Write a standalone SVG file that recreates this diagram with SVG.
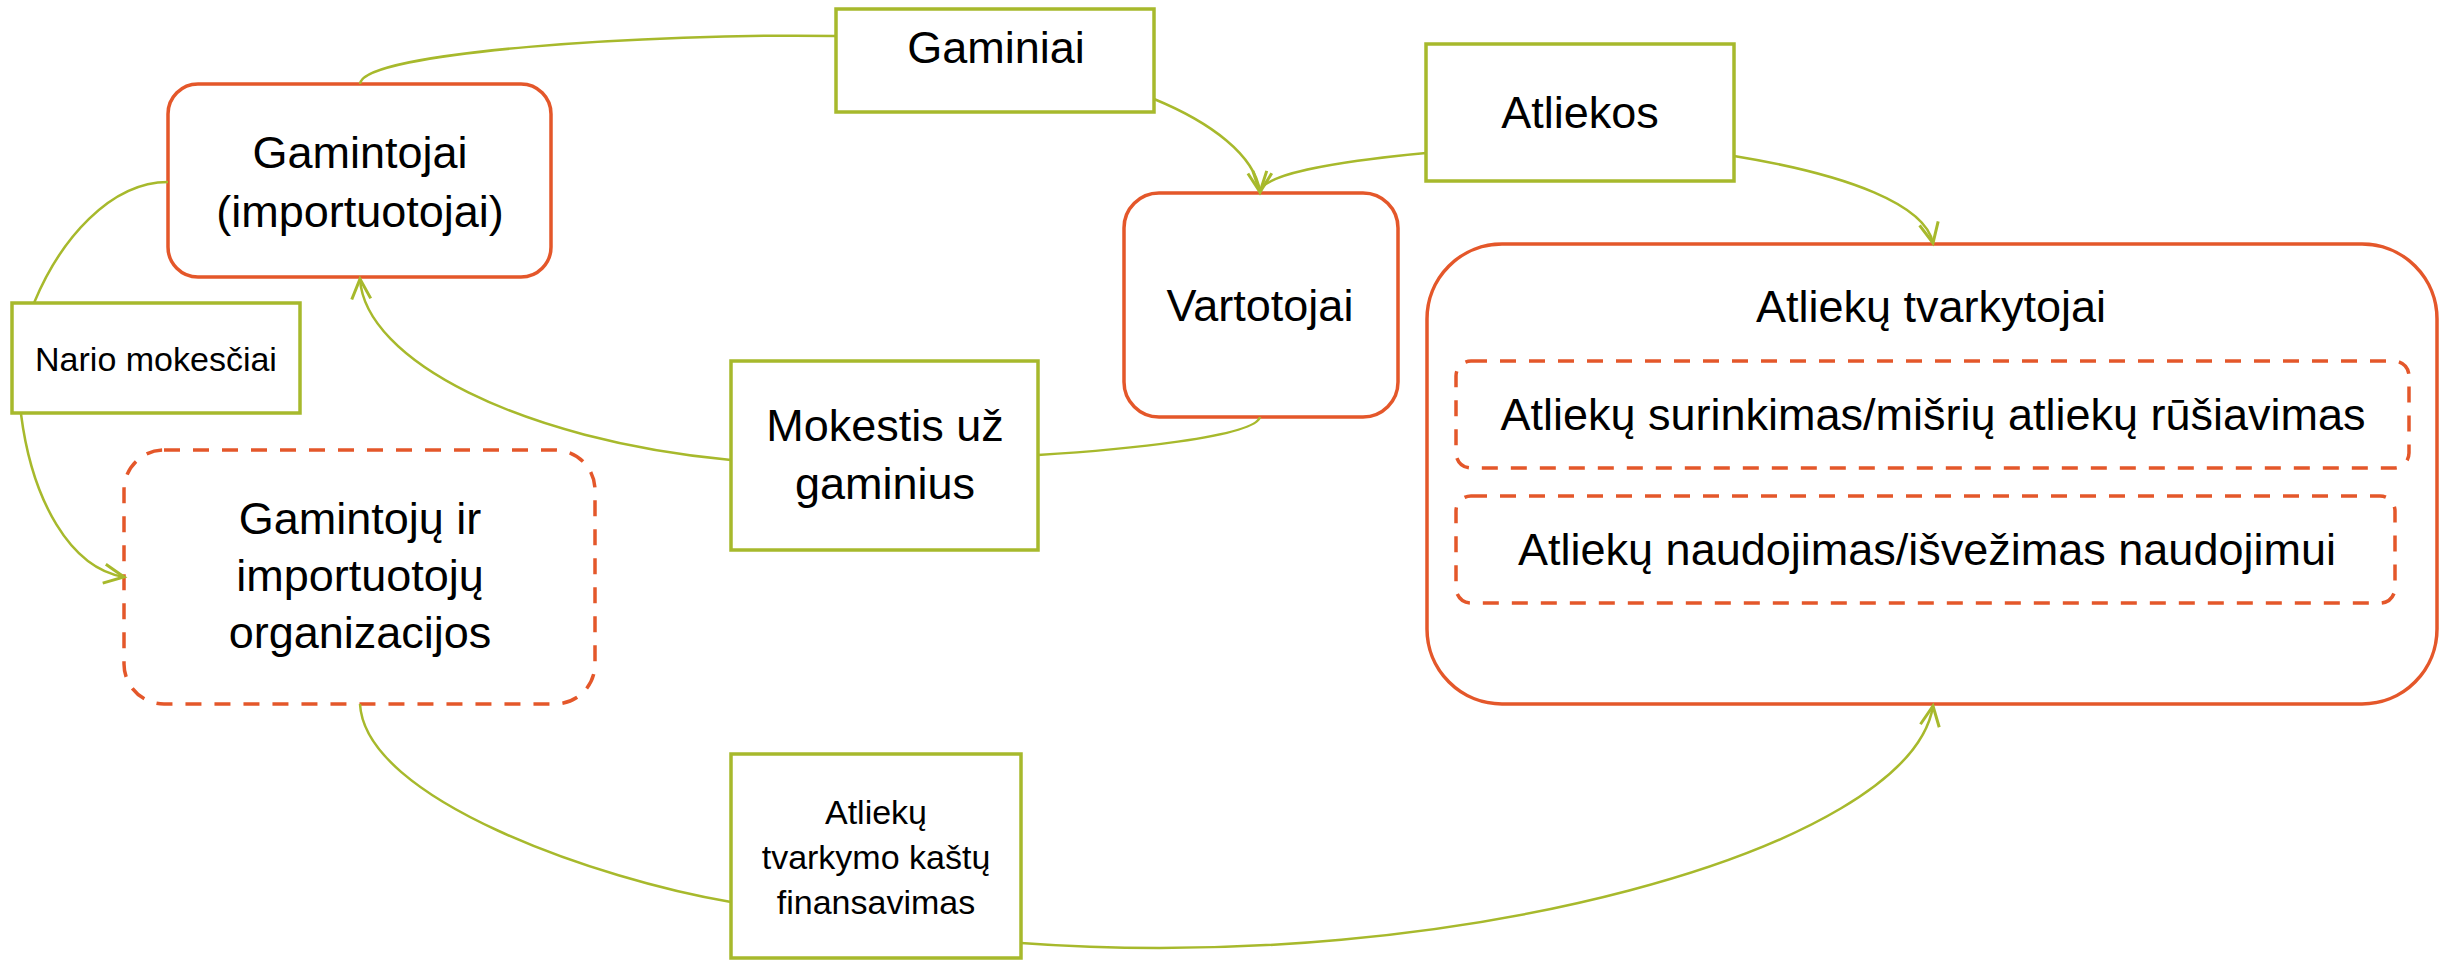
<svg xmlns="http://www.w3.org/2000/svg" width="2453" height="960" viewBox="0 0 2453 960">
<style>
.org{fill:#fff;stroke:#E4572A;stroke-width:3.5}
.dash{fill:#fff;stroke:#E4572A;stroke-width:3.5;stroke-dasharray:16 13}
.grn{fill:#fff;stroke:#A7B92C;stroke-width:3.5}
.con{fill:none;stroke:#A7B92C;stroke-width:2.5}
.t{font-family:"Liberation Sans",Arial,sans-serif;font-size:45px;fill:#000;text-anchor:middle}
.s{font-size:34px}
</style>
<defs>
<marker id="arr" markerUnits="userSpaceOnUse" markerWidth="30" markerHeight="30" refX="0" refY="0" viewBox="-25 -15 30 30" orient="auto" overflow="visible">
<path d="M-20,-9.5 L0,0 L-20,9.5" fill="none" stroke="#A7B92C" stroke-width="3"/>
</marker>
</defs>
<rect width="2453" height="960" fill="#fff"/>
<g id="gamintojai">
<rect class="org" x="168" y="84" width="383" height="193" rx="30"/>
<text class="t" x="360" y="168">Gamintojai</text>
<text class="t" x="360" y="227">(importuotojai)</text>
</g>
<g id="gaminiai">
<rect class="grn" x="836" y="9" width="318" height="103"/>
<text class="t" x="996" y="63">Gaminiai</text>
</g>
<g id="atliekos">
<rect class="grn" x="1426" y="44" width="308" height="137"/>
<text class="t" x="1580" y="128">Atliekos</text>
</g>
<g id="vartotojai">
<rect class="org" x="1124" y="193" width="274" height="224" rx="35"/>
<text class="t" x="1260" y="321">Vartotojai</text>
</g>
<g id="tvarkytojai">
<rect class="org" x="1427" y="244" width="1010" height="460" rx="75"/>
<text class="t" x="1931" y="322">Atliekų tvarkytojai</text>
</g>
<g id="surinkimas">
<rect class="dash" x="1456" y="361" width="953" height="107" rx="15"/>
<text class="t" x="1933" y="430">Atliekų surinkimas/mišrių atliekų rūšiavimas</text>
</g>
<g id="naudojimas">
<rect class="dash" x="1456" y="496" width="939" height="107" rx="15"/>
<text class="t" x="1927" y="565">Atliekų naudojimas/išvežimas naudojimui</text>
</g>
<g id="nario">
<rect class="grn" x="12" y="303" width="288" height="110"/>
<text class="t s" x="156" y="371">Nario mokesčiai</text>
</g>
<g id="mokestis">
<rect class="grn" x="731" y="361" width="307" height="189"/>
<text class="t" x="885" y="441">Mokestis už</text>
<text class="t" x="885" y="499">gaminius</text>
</g>
<g id="organizacijos">
<rect class="dash" x="124" y="450" width="471" height="254" rx="40"/>
<text class="t" x="360" y="534">Gamintojų ir</text>
<text class="t" x="360" y="591">importuotojų</text>
<text class="t" x="360" y="648">organizacijos</text>
</g>
<g id="finansavimas">
<rect class="grn" x="731" y="754" width="290" height="204"/>
<text class="t s" x="876" y="824">Atliekų</text>
<text class="t s" x="876" y="869">tvarkymo kaštų</text>
<text class="t s" x="876" y="914">finansavimas</text>
</g>
<g id="connectors">
<path class="con" d="M360,84 C362,52 650,33 836,36"/>
<path class="con" d="M1154,99 C1210,122 1255,155 1260,192" marker-end="url(#arr)"/>
<path class="con" d="M1426,153 C1330,162 1262,175 1260,192" marker-end="url(#arr)"/>
<path class="con" d="M1734,156 C1850,175 1925,205 1933,243" marker-end="url(#arr)"/>
<path class="con" d="M1260,417 C1255,437 1120,450 1038,455"/>
<path class="con" d="M731,460 C520,440 365,360 360,279" marker-end="url(#arr)"/>
<path class="con" d="M168,182 C110,182 60,240 34,303"/>
<path class="con" d="M21,414 C32,500 70,568 124,577" marker-end="url(#arr)"/>
<path class="con" d="M360,704 C365,800 600,880 731,902"/>
<path class="con" d="M1021,943 C1450,975 1910,850 1933,706" marker-end="url(#arr)"/>
</g>
</svg>
